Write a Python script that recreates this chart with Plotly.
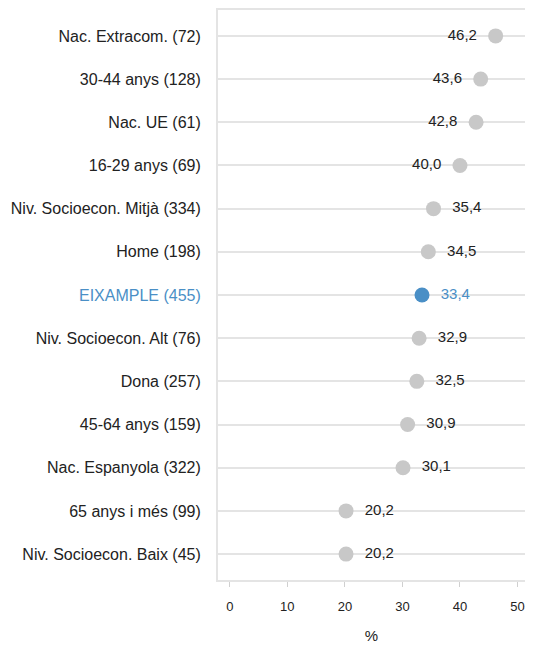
import plotly.graph_objects as go

# ─── Data ─────────────────────────────────────────────────────────────────────

groups = [
    "Nac. Extracom.", "30-44 anys", "Nac. UE", "16-29 anys",
    "Niv. Socioecon. Mitjà", "Home", "EIXAMPLE", "Niv. Socioecon. Alt",
    "Dona", "45-64 anys", "Nac. Espanyola", "65 anys i més",
    "Niv. Socioecon. Baix",
]
sample_n = [72, 128, 61, 69, 334, 198, 455, 76, 257, 159, 322, 99, 45]
pct = [46.2, 43.6, 42.8, 40.0, 35.4, 34.5, 33.4, 32.9, 32.5, 30.9, 30.1, 20.2, 20.2]
highlight = "EIXAMPLE"
x_ticks = [0, 10, 20, 30, 40, 50]

GREY = "#c8c8c8"
BLUE = "#4a8fc6"
GRID = "#e4e4e4"

# ─── Figure ───────────────────────────────────────────────────────────────────

rows = list(range(len(groups)))
colors = [BLUE if g == highlight else GREY for g in groups]
text_colors = [BLUE if g == highlight else "#222222" for g in groups]
on_left = [v > 37 for v in pct]
positions = ["middle left" if left else "middle right" for left in on_left]
templates = ["%{x:.1f}  " if left else "  %{x:.1f}" for left in on_left]
tick_text = [
    f'<span style="color:{BLUE}">{g} ({n})</span>' if g == highlight else f"{g} ({n})"
    for g, n in zip(groups, sample_n)
]

fig = go.Figure(go.Scatter(
    x=pct, y=rows, mode="markers+text",
    marker=dict(size=15, color=colors),
    texttemplate=templates,
    textposition=positions,
    textfont=dict(size=15, color=text_colors),
    hoverinfo="skip",
))

fig.update_xaxes(
    range=[-2.05, 51.3], tickvals=x_ticks, showgrid=False, zeroline=False,
    showline=True, linecolor=GRID, linewidth=2, mirror=True,
    ticks="outside", ticklen=5, tickcolor="#d0d0d0", ticklabelstandoff=8,
    tickfont=dict(size=13, color="#222222"),
    title=dict(text="%", font=dict(size=15, color="#222222"), standoff=20),
)
fig.update_yaxes(
    range=[12.6, -0.6], tickvals=rows, ticktext=tick_text,
    showgrid=True, gridcolor=GRID, gridwidth=2, zeroline=False,
    showline=True, linecolor=GRID, linewidth=2, mirror=False,
    ticklabelstandoff=12, tickfont=dict(size=16, color="#222222"),
)
# page body has an 8px margin; keep the figure inside the window
fig.update_layout(
    width=517, height=636,
    margin=dict(l=210, r=0, t=2, b=64),
    separators=",.",
    font=dict(family="Liberation Sans, Arial, sans-serif"),
    plot_bgcolor="white", paper_bgcolor="white",
    showlegend=False,
)

fig.write_html("out.html")
